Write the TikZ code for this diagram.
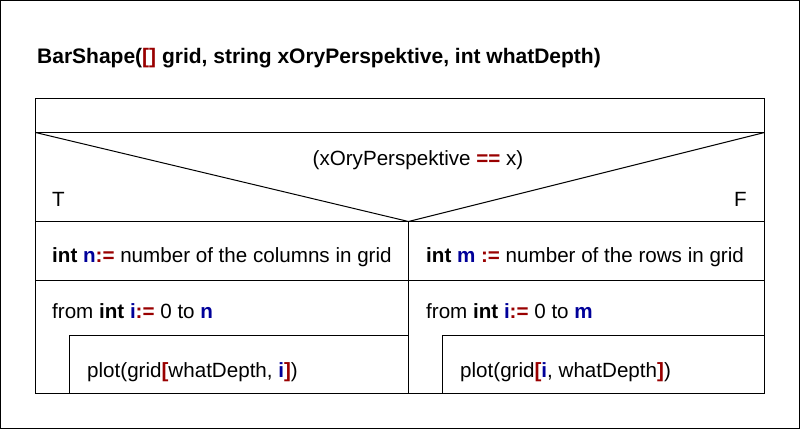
\documentclass[tikz,border=0pt]{standalone}
\usepackage{fontspec}
\setmainfont{Liberation Sans}
\definecolor{kwred}{HTML}{990000}
\definecolor{kwblue}{HTML}{000099}
\newcommand{\rd}[1]{\textcolor{kwred}{\textbf{#1}}}
\newcommand{\bl}[1]{\textcolor{kwblue}{\textbf{#1}}}
\begin{document}
\begin{tikzpicture}[x=1pt,y=-1pt,
  line/.style={draw=black,line width=1pt},
  txt/.style={anchor=base west,inner sep=0pt,font=\fontsize{20.6}{24}\selectfont},
  ttl/.style={anchor=base west,inner sep=0pt,font=\fontsize{21}{24}\selectfont\bfseries}]
\useasboundingbox (0,0) rectangle (800,429);
\draw[line] (0.5,0.5) rectangle (799.5,428.5);
% main box corners
\coordinate (tl) at (35.5,98.5);
\coordinate (tr) at (764.5,98.5);
\coordinate (bl) at (35.5,393.5);
\coordinate (br) at (764.5,393.5);
\coordinate (r1l) at (35.5,132.5);
\coordinate (r1r) at (764.5,132.5);
\coordinate (dv) at (408.5,221.5);
\coordinate (d1l) at (35.5,221.5);
\coordinate (d1r) at (764.5,221.5);
\coordinate (d2l) at (35.5,280.5);
\coordinate (d2r) at (764.5,280.5);
\coordinate (db) at (408.5,393.5);
\coordinate (ilt) at (69.5,335.5);
\coordinate (ilb) at (69.5,393.5);
\coordinate (ilr) at (408.5,335.5);
\coordinate (irt) at (442.5,335.5);
\coordinate (irb) at (442.5,393.5);
\draw[line] (tl) rectangle (br);
\draw[line] (r1l) -- (r1r);
\draw[line] (r1l) -- (dv) -- (r1r);
\draw[line] (d1l) -- (d1r);
\draw[line] (d2l) -- (d2r);
\draw[line] (dv) -- (db);
\draw[line] (ilb) -- (ilt) -- (ilr);
\draw[line] (irb) -- (irt) -- (br |- irt);
% texts
\node[ttl] (title) at (37,63) {BarShape(\rd{[]} grid, string xOryPerspektive, int whatDepth)};
\node[txt,anchor=base] (cond) at (418,165) {(xOryPerspektive \rd{==} x)};
\node[txt] (t) at (52,206) {T};
\node[txt] (f) at (734,206) {F};
\node[txt] (a1) at (52,262) {\textbf{int} \bl{n}\rd{:=} number of the columns in grid};
\node[txt] (a2) at (426,262) {\textbf{int} \bl{m} \rd{:=} number of the rows in grid};
\node[txt] (l1) at (52,318) {from \textbf{int} \bl{i}\rd{:=} 0 to \bl{n}};
\node[txt] (l2) at (426,318) {from \textbf{int} \bl{i}\rd{:=} 0 to \bl{m}};
\node[txt] (p1) at (87,377) {plot(grid\rd{[}whatDepth, \bl{i}\rd{]})};
\node[txt] (p2) at (460,377) {plot(grid\rd{[}\bl{i}, whatDepth\rd{]})};
\end{tikzpicture}
\end{document}
